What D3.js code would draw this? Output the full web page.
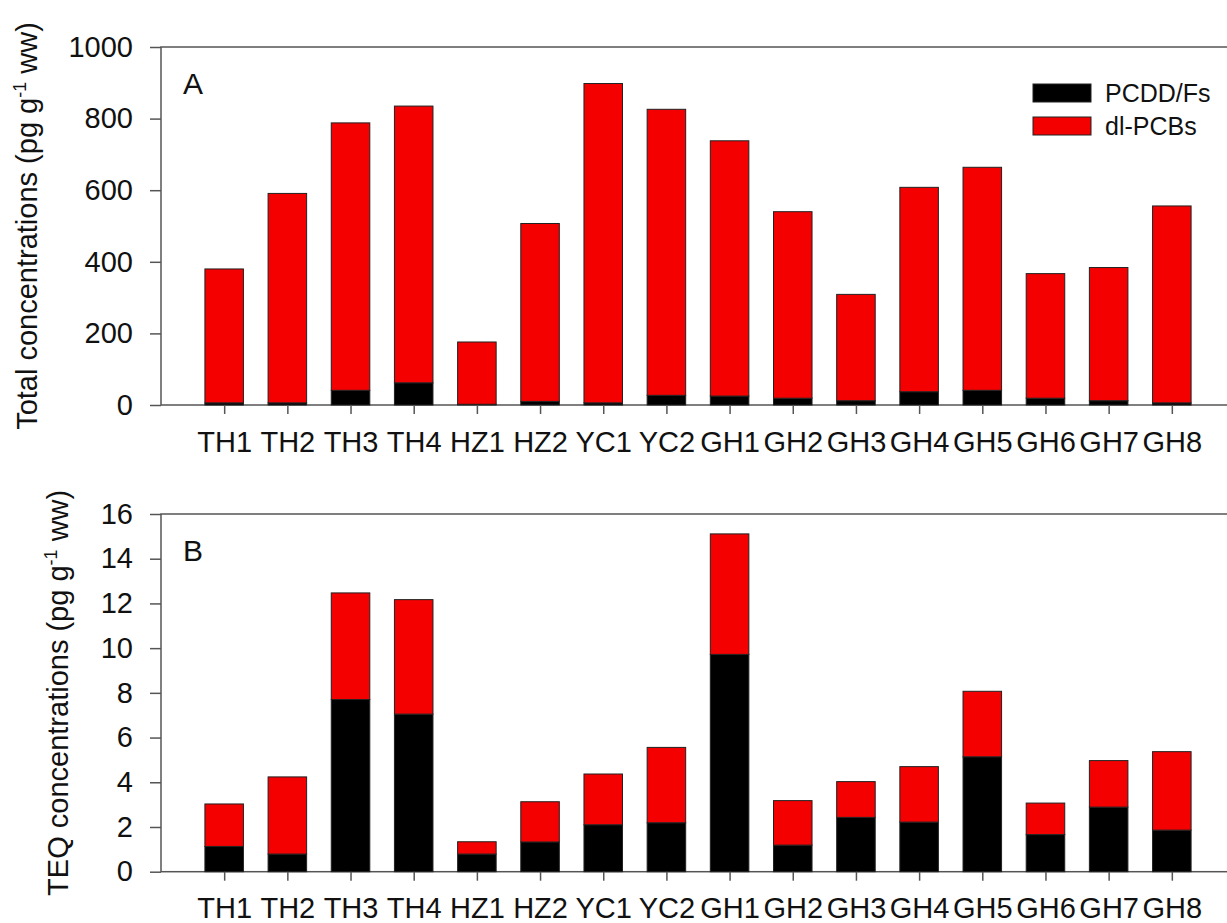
<!DOCTYPE html>
<html>
<head>
<meta charset="utf-8">
<script src="https://cdn.jsdelivr.net/npm/d3@7"></script>
<style>
  body { margin: 0; background: #fff; }
  svg text { font-family: "Liberation Sans", Arial, sans-serif; fill: #111; }
</style>
</head>
<body>
<div id="chart"></div>
<script>
// sampling sites
var sites = ["TH1","TH2","TH3","TH4","HZ1","HZ2","YC1","YC2","GH1","GH2","GH3","GH4","GH5","GH6","GH7","GH8"];

// panel A: total concentrations (pg/g ww)
var totalPcdd = [6,6,41,62,2,10,6,27,25,19,12,37,41,19,12,6];
var totalDlpcb = [374,585,747,773,174,497,892,799,713,521,297,571,623,348,372,550];

// panel B: TEQ concentrations (pg/g ww)
var teqPcdd = [1.13,0.79,7.70,7.05,0.79,1.33,2.10,2.19,9.72,1.19,2.43,2.22,5.14,1.66,2.89,1.86];
var teqDlpcb = [1.90,3.45,4.77,5.12,0.55,1.80,2.27,3.37,5.39,1.99,1.60,2.48,2.93,1.41,2.08,3.51];

var ticksA = [0,200,400,600,800,1000];
var ticksB = [0,2,4,6,8,10,12,14,16];

var seriesNames = ["PCDD/Fs", "dl-PCBs"];
var colors = {"PCDD/Fs": "#000000", "dl-PCBs": "#f40000"};

var W = 1227, H = 923;
var left = 161, right = 1235;

var svg = d3.select("#chart").append("svg")
    .attr("width", W)
    .attr("height", H);

var x = d3.scalePoint()
    .domain(sites)
    .range([left, right])
    .padding(1);

var barW = x.step() * 0.61;

function drawPanel(vals) {
    var {top, bottom, ymax, ticks, pcdd, dl, label, title, titleX, legend} = vals;

    var y = d3.scaleLinear().domain([0, ymax]).range([bottom, top]);

    var rows = sites.map((s, i) => ({site: s, "PCDD/Fs": pcdd[i], "dl-PCBs": dl[i]}));
    var stacked = d3.stack().keys(seriesNames)(rows);

    var g = svg.append("g");

    // frame
    g.append("rect")
        .attr("x", left).attr("y", top)
        .attr("width", right - left).attr("height", bottom - top)
        .attr("fill", "none")
        .attr("stroke", "#555")
        .attr("stroke-width", 1.5);

    // bars
    g.selectAll("g.series")
        .data(stacked)
        .enter().append("g")
        .attr("fill", d => colors[d.key])
        .selectAll("rect")
        .data(d => d)
        .enter().append("rect")
        .attr("x", d => x(d.data.site) - barW / 2)
        .attr("y", d => y(d[1]))
        .attr("width", barW)
        .attr("height", d => y(d[0]) - y(d[1]))
        .attr("stroke", "#222")
        .attr("stroke-width", 1);

    // y axis
    var ya = g.append("g")
        .attr("transform", "translate(" + left + ",0)")
        .call(d3.axisLeft(y).tickValues(ticks).tickSize(11).tickPadding(17).tickFormat(d3.format("d")));
    ya.select(".domain").remove();
    ya.selectAll("line").attr("stroke", "#555").attr("stroke-width", 1.5);
    ya.selectAll("text").style("font-size", "29px").attr("fill", "#111");

    // x axis
    var xa = g.append("g")
        .attr("transform", "translate(0," + bottom + ")")
        .call(d3.axisBottom(x).tickSize(9).tickPadding(17));
    xa.select(".domain").remove();
    xa.selectAll("line").attr("stroke", "#555").attr("stroke-width", 1.5);
    xa.selectAll("text").style("font-size", "29px").attr("fill", "#111");

    // panel letter
    g.append("text")
        .attr("x", 183)
        .attr("y", top + 47)
        .style("font-size", "30px")
        .text(label);

    // y title
    var t = g.append("text")
        .attr("transform", "translate(" + titleX + "," + ((top + bottom) / 2) + ") rotate(-90)")
        .attr("text-anchor", "middle")
        .style("font-size", "29px");
    t.append("tspan").text(title + " (pg g");
    t.append("tspan").attr("dy", -11).style("font-size", "18px").text("-1");
    t.append("tspan").attr("dy", 11).text(" ww)");

    if (legend) {
        var lg = g.append("g").attr("transform", "translate(1033,84)");
        var items = lg.selectAll("g")
            .data(seriesNames)
            .enter().append("g")
            .attr("transform", (d, i) => "translate(0," + (i * 33) + ")");
        items.append("rect")
            .attr("width", 58).attr("height", 18)
            .attr("fill", d => colors[d])
            .attr("stroke", "#222").attr("stroke-width", 1);
        items.append("text")
            .attr("x", 72).attr("y", 18)
            .style("font-size", "25px")
            .text(d => d);
    }
}

drawPanel({top: 47, bottom: 405, ymax: 1000, ticks: ticksA,
    pcdd: totalPcdd, dl: totalDlpcb, label: "A",
    title: "Total concentrations", titleX: 37, legend: true});

drawPanel({top: 514, bottom: 871.7, ymax: 16, ticks: ticksB,
    pcdd: teqPcdd, dl: teqDlpcb, label: "B",
    title: "TEQ concentrations", titleX: 68, legend: false});
</script>
</body>
</html>
